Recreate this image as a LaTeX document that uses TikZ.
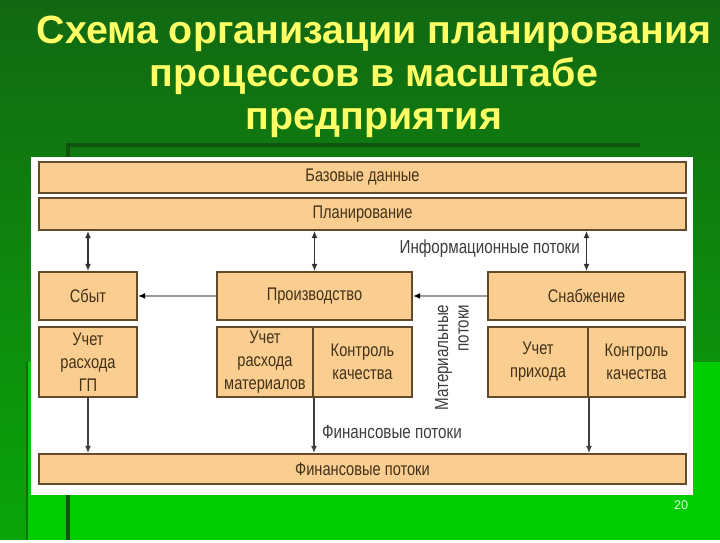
\documentclass[tikz,border=0pt]{standalone}
\usepackage{fontspec}
\setmainfont{Liberation Sans}
\newfontfamily\uzkij[FakeStretch=0.8]{Liberation Sans}
\usetikzlibrary{arrows.meta}
\definecolor{fonverh}{RGB}{18,104,18}
\definecolor{fonniz}{RGB}{10,165,10}
\definecolor{yarkij}{RGB}{0,204,0}
\definecolor{temnaya}{RGB}{16,84,16}
\definecolor{zhelt}{RGB}{255,255,102}
\definecolor{pesok}{RGB}{250,205,145}
\definecolor{korich}{RGB}{98,74,42}
\definecolor{tekst}{RGB}{66,50,24}
\definecolor{seryj}{RGB}{62,62,62}

\begin{document}
\begin{tikzpicture}[line width=1pt,>={Latex[length=1.8mm,width=1.5mm]},
  blok/.style={draw=korich,fill=pesok,line width=1.4pt,inner sep=1pt,align=center,
    text=tekst,font=\uzkij\fontsize{13}{16.4}\selectfont},
  potok/.style={<->,draw=black!80,line width=0.8pt},
  vniz/.style={->,draw=black!75,line width=0.8pt},
  vbok/.style={-{Latex[length=1.8mm,width=1.5mm,color=black]},draw=black!40,line width=1.4pt},
  podp/.style={text=seryj,font=\uzkij\fontsize{13.5}{14.5}\selectfont}]
  % фон слайда
  \shade[top color=fonverh,bottom color=fonniz] (0,0) rectangle (18,13.5);
  \fill[yarkij] (0.675,0) rectangle (18,4.45);
  \draw[green!45!black,line width=1.2pt] (0.675,0) -- (0.675,4.45);
  \draw[temnaya,line width=3pt] (1.7,0) -- (1.7,9.875) -- (16,9.875);
  % заголовок
  \node[text=zhelt,font=\bfseries\fontsize{28}{30.6}\selectfont,align=center] (zag) at (9.35,11.57)
    {Схема организации планирования\\процессов в масштабе\\предприятия};
  \node[text=green!12!white,font=\fontsize{9}{10}\selectfont] (nomer) at (17.03,0.86) {20};
  % белое поле схемы
  \fill[white] (0.775,1.125) rectangle (17.325,9.575);
  % блоки
  \node[blok,minimum width=16.175cm,minimum height=0.775cm] (baza) at (9.0625,9.0625) {Базовые данные};
  \node[blok,minimum width=16.175cm,minimum height=0.8cm] (plan) at (9.0625,8.15) {Планирование};
  \node[blok,minimum width=2.45cm,minimum height=1.2cm] (sbyt) at (2.2,6.1) {Сбыт};
  \node[blok,minimum width=4.875cm,minimum height=1.2cm] (proizv) at (7.8625,6.1) {Производство};
  \node[blok,minimum width=4.925cm,minimum height=1.2cm] (snab) at (14.6625,6.1) {Снабжение};
  \node[blok,minimum width=2.45cm,minimum height=1.75cm] (uchgp) at (2.2,4.45) {Учет\\расхода\\ГП};
  \node[blok,minimum width=2.4cm,minimum height=1.75cm] (uchmat) at (6.625,4.45) {Учет\\расхода\\материалов};
  \node[blok,minimum width=2.475cm,minimum height=1.75cm] (kontr1) at (9.0625,4.45) {Контроль\\качества};
  \node[blok,minimum width=2.5cm,minimum height=1.75cm] (uchpr) at (13.45,4.45) {Учет\\прихода};
  \node[blok,minimum width=2.425cm,minimum height=1.75cm] (kontr2) at (15.9125,4.45) {Контроль\\качества};
  \node[blok,minimum width=16.175cm,minimum height=0.75cm] (fin) at (9.0625,1.775) {Финансовые потоки};
  % информационные потоки
  \draw[potok] (plan.south -| sbyt.north) -- (sbyt.north);
  \draw[potok] (plan.south -| proizv.north) -- (proizv.north);
  \draw[potok] (plan.south -| snab.north) -- node[podp,left=1pt,pos=0.45] (info) {Информационные потоки} (snab.north);
  % материальные потоки
  \draw[vbok] (proizv.west) -- (sbyt.east);
  \draw[vbok] (snab.west) -- (proizv.east);
  \node[podp,rotate=90,align=right] (mater) at (11.3,4.56) {Материальные\\потоки};
  % финансовые потоки
  \draw[vniz] (uchgp.south) -- (uchgp.south |- fin.north);
  \draw[vniz] (uchmat.south east) -- node[podp,right=2pt,pos=0.62] (finp) {Финансовые потоки} (uchmat.south east |- fin.north);
  \draw[vniz] (uchpr.south east) -- (uchpr.south east |- fin.north);
\end{tikzpicture}
\end{document}
